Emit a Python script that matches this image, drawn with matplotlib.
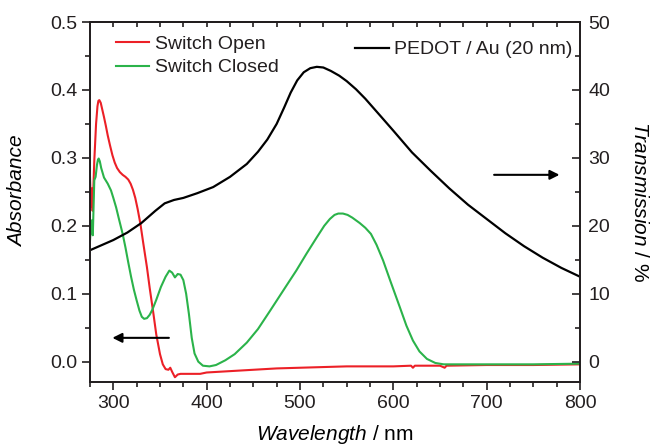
import matplotlib
matplotlib.use("Agg")
import matplotlib.pyplot as plt

# ---------------- data ----------------
open_wl = [275, 276, 277, 277.8, 279.6, 281.5, 283, 284, 285, 286.5, 288, 290, 292, 294, 296.5,
           299, 301.5, 304, 307, 310, 313, 316, 318.5, 321, 323.5, 326, 329, 332, 336, 339,
           343, 346, 350, 353, 356, 359, 361, 363, 366, 369, 372, 380, 393, 400, 425, 450,
           475, 500, 550, 600, 619, 621, 623, 650, 655, 657, 700, 750, 800]
open_abs = [0.272, 0.228, 0.255, 0.222, 0.296, 0.350, 0.376, 0.384, 0.385, 0.381, 0.372, 0.360,
            0.347, 0.333, 0.318, 0.304, 0.293, 0.285, 0.279, 0.275, 0.272, 0.268, 0.262, 0.253,
            0.241, 0.225, 0.203, 0.175, 0.139, 0.108, 0.070, 0.040, 0.011, -0.004, -0.011,
            -0.012, -0.009, -0.015, -0.023, -0.019, -0.018, -0.018, -0.018, -0.016, -0.014,
            -0.012, -0.010, -0.009, -0.007, -0.007, -0.006, -0.009, -0.006, -0.006, -0.009,
            -0.006, -0.005, -0.005, -0.004]

closed_wl = [275, 276, 277, 278, 279.6, 281, 282.5, 283.5, 284.3, 285.5, 287, 290, 294, 297.5,
             300, 303, 306, 310, 313, 316, 319, 322, 325, 328, 330.5, 333, 336, 339, 342,
             346, 351, 356, 360, 363, 366, 369, 372, 375, 378, 381, 384, 387, 391, 396, 403,
             410, 420, 430, 443, 455, 468, 477, 486, 496, 507, 518, 526, 532, 537, 541, 546,
             551, 556, 564, 570, 576, 582, 589, 597, 607, 614, 621, 628, 636, 645, 654, 700,
             750, 800]
closed_abs = [0.178, 0.200, 0.208, 0.186, 0.267, 0.272, 0.290, 0.297, 0.299, 0.295, 0.285,
              0.271, 0.262, 0.252, 0.241, 0.227, 0.210, 0.188, 0.168, 0.146, 0.125, 0.106,
              0.090, 0.075, 0.066, 0.063, 0.064, 0.069, 0.077, 0.091, 0.110, 0.125, 0.134,
              0.131, 0.124, 0.129, 0.128, 0.120, 0.100, 0.070, 0.035, 0.012, 0.000, -0.006,
              -0.007, -0.005, 0.002, 0.011, 0.028, 0.048, 0.075, 0.094, 0.113, 0.134, 0.159,
              0.183, 0.200, 0.210, 0.216, 0.218, 0.218, 0.216, 0.212, 0.204, 0.197, 0.188,
              0.172, 0.149, 0.118, 0.080, 0.053, 0.031, 0.015, 0.004, -0.002, -0.004, -0.004,
              -0.004, -0.003]

pedot_wl = [275, 290, 300, 315, 330, 345, 355, 365, 375, 390, 407, 425, 443, 455, 465, 475,
            483, 490, 497, 504, 511, 518, 525, 533, 542, 550, 560, 570, 586, 600, 620, 640,
            660, 680, 700, 720, 740, 760, 780, 800]
pedot_T = [16.4, 17.3, 17.9, 19.0, 20.4, 22.2, 23.3, 23.8, 24.1, 24.8, 25.7, 27.2, 29.1, 30.9,
           32.7, 35.0, 37.4, 39.6, 41.4, 42.6, 43.2, 43.4, 43.3, 42.8, 42.1, 41.3, 40.1, 38.7,
           36.2, 34.0, 30.8, 28.1, 25.5, 23.1, 21.0, 18.9, 17.0, 15.3, 13.8, 12.5]

x_ticks = [300, 400, 500, 600, 700, 800]
left_ticks = [0.0, 0.1, 0.2, 0.3, 0.4, 0.5]
right_ticks = [0, 10, 20, 30, 40, 50]

# ---------------- style ----------------
TXT = '#231f20'
plt.rcParams['font.family'] = ['Liberation Sans', 'DejaVu Sans']
plt.rcParams['mathtext.fontset'] = 'custom'
plt.rcParams['mathtext.rm'] = 'Liberation Sans'
plt.rcParams['mathtext.it'] = 'Liberation Sans:italic'
plt.rcParams['text.color'] = TXT
plt.rcParams['xtick.color'] = TXT
plt.rcParams['ytick.color'] = TXT

fig = plt.figure(figsize=(6.52, 4.48), dpi=100)
ax = fig.add_axes([90 / 652, 1 - 382 / 448, 490 / 652, 360 / 448])
ax2 = ax.twinx()

red = '#ec2027'
green = '#2bb34a'
l1, = ax.plot(open_wl, open_abs, color=red, lw=1.5, label='Switch Open')
l2, = ax.plot(closed_wl, closed_abs, color=green, lw=1.5, label='Switch Closed')
l3, = ax2.plot(pedot_wl, pedot_T, color='black', lw=1.6, label='PEDOT / Au (20 nm)')

ax.set_xlim(275, 800)
ax.set_ylim(-0.03, 0.5)
ax2.set_ylim(-3, 50)

ax.set_xticks(x_ticks)
ax.set_xticks([v for v in range(275, 801, 25)], minor=True)
ax.set_yticks(left_ticks)
ax.set_yticklabels([f'{v:.1f}' for v in left_ticks])
ax.set_yticks([0.05, 0.15, 0.25, 0.35, 0.45], minor=True)
ax2.set_yticks(right_ticks)
ax2.set_yticks([5, 15, 25, 35, 45], minor=True)

for a in (ax, ax2):
    for s in a.spines.values():
        s.set_linewidth(1.3)
        s.set_color(TXT)

ax.tick_params(axis='x', which='major', direction='out', length=6, width=1.2, labelsize=14, pad=3)
ax.tick_params(axis='x', which='minor', direction='out', length=3.5, width=1.2)
ax.tick_params(axis='y', which='major', direction='out', length=6, width=1.2, labelsize=14, pad=3)
ax.tick_params(axis='y', which='minor', direction='out', length=3.5, width=1.2)
ax2.tick_params(axis='y', which='major', direction='in', length=6, width=1.2, labelsize=14, pad=6)
ax2.tick_params(axis='y', which='minor', direction='in', length=3.5, width=1.2)

top = ax.secondary_xaxis('top')
top.set_xticks([v for v in range(275, 801, 25)])
top.tick_params(axis='x', which='both', direction='in', length=3.5, width=1.2, labeltop=False)
top.spines['top'].set_linewidth(1.3)

ax.set_xlabel(r'$\mathit{Wavelength}$ / nm', fontsize=15, labelpad=8)
ax.set_ylabel('Absorbance', fontsize=15, fontstyle='italic')
ax.yaxis.set_label_coords(-0.128, 0.53)
ax2.set_ylabel(r'$\mathit{Transmission}$ / %', fontsize=15, rotation=270, labelpad=28)

ax.legend(handles=[l1, l2], loc='upper left', bbox_to_anchor=(0.033, 0.99), frameon=False,
          fontsize=14, borderpad=0, handlelength=1.7, handletextpad=0.3, labelspacing=0.3)
ax2.legend(handles=[l3], loc='upper right', bbox_to_anchor=(1.005, 0.975), frameon=False,
           fontsize=14, borderpad=0, handlelength=1.7, handletextpad=0.3)

ax.annotate('', xy=(296, 0.035), xytext=(362.5, 0.035),
            arrowprops=dict(arrowstyle='-|>', color='black', lw=1.5, mutation_scale=14))
ax2.annotate('', xy=(781, 27.5), xytext=(705, 27.5),
             arrowprops=dict(arrowstyle='-|>', color='black', lw=1.5, mutation_scale=14))

fig.savefig('out.png', dpi=100)
